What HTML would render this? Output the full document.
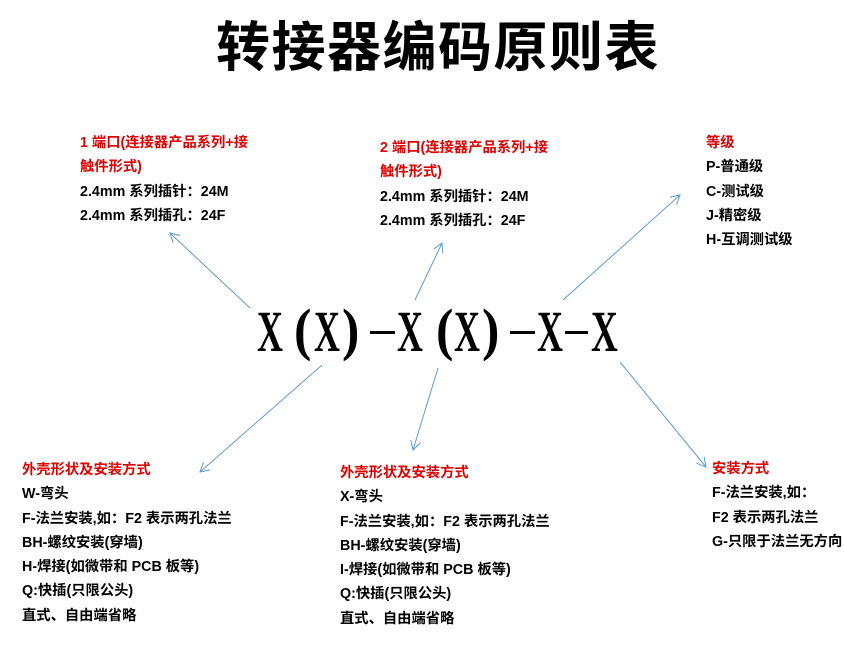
<!DOCTYPE html>
<html><head><meta charset="utf-8">
<style>
html,body{margin:0;padding:0;background:#fff;width:844px;height:652px;overflow:hidden;position:relative;}
.t{position:absolute;font-family:"Liberation Sans","Noto Sans CJK SC",sans-serif;font-weight:bold;font-size:14.3px;line-height:24.3px;color:#000;white-space:nowrap;}
.r{color:#e00000;}
.title{position:absolute;left:216px;top:8px;font-family:"Noto Sans CJK SC","WenQuanYi Zen Hei",sans-serif;font-weight:bold;font-size:54px;line-height:70px;letter-spacing:1.5px;color:#000;white-space:nowrap;}
svg{position:absolute;left:0;top:0;}
</style></head><body>
<div class="title">转接器编码原则表</div>
<svg width="844" height="652">
<defs><marker id="a" markerWidth="12" markerHeight="12" refX="10" refY="6" orient="auto" markerUnits="userSpaceOnUse"><path d="M1,1 L10,6 L1,11" fill="none" stroke="#5b9bd5" stroke-width="1"/></marker></defs>
<g stroke="#5b9bd5" stroke-width="1" fill="none" marker-end="url(#a)">
<line x1="250" y1="308" x2="170" y2="233"/>
<line x1="415" y1="300" x2="442" y2="243"/>
<line x1="563" y1="300" x2="680" y2="195"/>
<line x1="322" y1="365" x2="200" y2="472"/>
<line x1="438" y1="368" x2="413" y2="450"/>
<line x1="620" y1="362" x2="706" y2="467"/>
</g>
<g font-family="Liberation Serif, serif" font-weight="bold" font-size="58">
<text transform="translate(257,351) scale(0.62,1)">X</text>
<text transform="translate(294,349) scale(0.9,1)">(</text>
<text transform="translate(314,351) scale(0.62,1)">X</text>
<text transform="translate(342,349) scale(0.9,1)">)</text>
<text transform="translate(397,351) scale(0.62,1)">X</text>
<text transform="translate(436,349) scale(0.9,1)">(</text>
<text transform="translate(454,351) scale(0.62,1)">X</text>
<text transform="translate(482,349) scale(0.9,1)">)</text>
<text transform="translate(537,351) scale(0.62,1)">X</text>
<text transform="translate(591,351) scale(0.64,1)">X</text>
</g>
<g fill="#000">
<rect x="370" y="331" width="25" height="3"/>
<rect x="510" y="331" width="25" height="3"/>
<rect x="565" y="331" width="23" height="3"/>
</g>
</svg>
<div class="t" style="left:80px;top:131px"><span class="r">1 端口(连接器产品系列+接<br>触件形式)</span><br>2.4mm 系列插针：24M<br>2.4mm 系列插孔：24F</div>
<div class="t" style="left:380px;top:136px"><span class="r">2 端口(连接器产品系列+接<br>触件形式)</span><br>2.4mm 系列插针：24M<br>2.4mm 系列插孔：24F</div>
<div class="t" style="left:706px;top:131px"><span class="r">等级</span><br>P-普通级<br>C-测试级<br>J-精密级<br>H-互调测试级</div>
<div class="t" style="left:22px;top:458px"><span class="r">外壳形状及安装方式</span><br>W-弯头<br>F-法兰安装,如：F2 表示两孔法兰<br>BH-螺纹安装(穿墙)<br>H-焊接(如微带和 PCB 板等)<br>Q:快插(只限公头)<br>直式、自由端省略</div>
<div class="t" style="left:340px;top:461px"><span class="r">外壳形状及安装方式</span><br>X-弯头<br>F-法兰安装,如：F2 表示两孔法兰<br>BH-螺纹安装(穿墙)<br>I-焊接(如微带和 PCB 板等)<br>Q:快插(只限公头)<br>直式、自由端省略</div>
<div class="t" style="left:712px;top:457px"><span class="r">安装方式</span><br>F-法兰安装,如：<br>F2 表示两孔法兰<br>G-只限于法兰无方向</div>
</body></html>
